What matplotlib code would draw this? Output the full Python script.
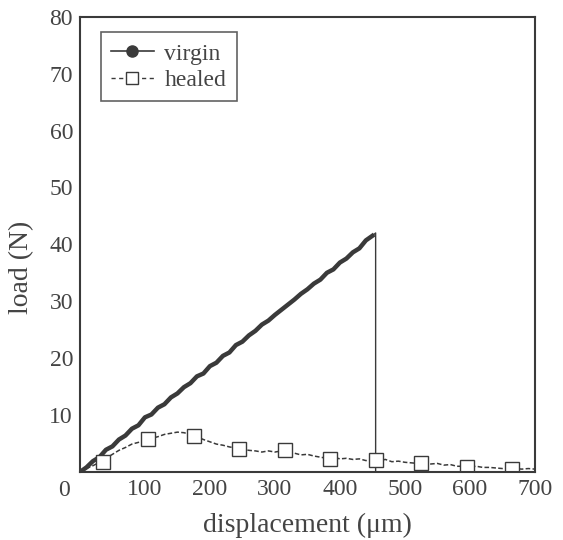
import matplotlib.pyplot as plt

# virgin specimen: load-displacement up to fracture
virgin_x = [0, 10, 20, 30, 40, 50, 60, 70, 80, 90, 100, 110, 120, 130, 140, 150,
            160, 170, 180, 190, 200, 210, 220, 230, 240, 250, 260, 270, 280, 290,
            300, 310, 320, 330, 340, 350, 360, 370, 380, 390, 400, 410, 420, 430,
            440, 450, 455, 455]
virgin_y = [0.0, 0.8, 1.9, 2.6, 3.9, 4.5, 5.7, 6.4, 7.6, 8.2, 9.6, 10.1, 11.3, 11.9,
            13.1, 13.8, 14.9, 15.6, 16.8, 17.3, 18.6, 19.2, 20.4, 21.0, 22.3, 22.9,
            24.0, 24.8, 25.9, 26.6, 27.6, 28.5, 29.4, 30.3, 31.3, 32.1, 33.1, 33.8,
            35.0, 35.6, 36.8, 37.5, 38.6, 39.3, 40.7, 41.5, 42.0, 0.0]

# healed specimen
healed_x = [0, 10, 20, 30, 40, 50, 60, 70, 80, 90, 100, 110, 120, 130, 140, 150,
            160, 170, 180, 190, 200, 210, 220, 230, 240, 250, 260, 270, 280, 290,
            300, 310, 320, 330, 340, 350, 360, 370, 380, 390, 400, 410, 420, 430,
            440, 450, 460, 470, 480, 490, 500, 510, 520, 530, 540, 550, 560, 570,
            580, 590, 600, 610, 620, 630, 640, 650, 660, 670, 680, 690, 700]
healed_y = [0.0, 0.6, 1.1, 1.7, 2.4, 3.1, 3.8, 4.3, 4.9, 5.2, 5.6, 5.9, 6.2, 6.6,
            6.8, 7.0, 6.9, 6.6, 6.2, 5.7, 5.3, 4.9, 4.7, 4.4, 4.2, 4.0, 3.8, 3.7,
            3.5, 3.7, 3.5, 3.7, 3.4, 3.3, 3.0, 3.1, 2.8, 2.6, 2.4, 2.6, 2.3, 2.4,
            2.2, 2.3, 2.0, 2.1, 2.0, 2.2, 1.8, 1.9, 1.7, 1.6, 1.5, 1.6, 1.4, 1.5,
            1.2, 1.3, 1.0, 1.0, 0.9, 1.0, 0.8, 0.8, 0.7, 0.6, 0.6, 0.6, 0.5, 0.6, 0.5]
healed_marks = [35, 105, 175, 245, 315, 385, 455, 525, 595, 665]
healed_marks_y = [1.8, 5.8, 6.3, 4.1, 3.8, 2.3, 2.1, 1.5, 0.8, 0.5]

x_ticks = [100, 200, 300, 400, 500, 600, 700]
y_ticks = [10, 20, 30, 40, 50, 60, 70, 80]

plt.rcParams['font.family'] = ['Liberation Serif', 'DejaVu Serif']
col = '#3a3a3a'
txt = '#444444'

fig = plt.figure(figsize=(5.63, 5.40), dpi=100)
ax = fig.add_axes([0.142, 0.126, 0.808, 0.843])

ax.plot(virgin_x[:-2], virgin_y[:-2], color=col, lw=3.2)
ax.plot(virgin_x[-3:], virgin_y[-3:], color=col, lw=1.0)

ax.plot(healed_x, healed_y, color=col, lw=1.1, linestyle=(0, (3, 1.5)))
ax.plot(healed_marks, healed_marks_y, linestyle='', marker='s', ms=10,
        mfc='white', mec=col, mew=1.0)

# legend proxies
ax.plot([], [], color=col, lw=1.2, marker='o', ms=8, label='virgin')
ax.plot([], [], color=col, lw=1.0, linestyle=(0, (3, 2.5)), marker='s', ms=9,
        mfc='white', mec=col, label='healed')
leg = ax.legend(loc='upper left', bbox_to_anchor=(0.035, 0.976), fontsize=17,
                frameon=True, fancybox=False, edgecolor=col, handlelength=1.8,
                borderpad=0.45, labelspacing=0.2, handletextpad=0.45,
                borderaxespad=0.2)
leg.get_frame().set_linewidth(1.2)
for t in leg.get_texts():
    t.set_color(txt)

ax.set_xlim(0, 700)
ax.set_ylim(0, 80)
ax.set_xticks(x_ticks)
ax.set_yticks(y_ticks)
ax.tick_params(length=0, labelsize=17, colors=txt, pad=5)
ax.text(-0.035, -0.04, '0', transform=ax.transAxes, fontsize=17,
        color=txt, ha='center', va='center')
for s in ax.spines.values():
    s.set_linewidth(1.5)
    s.set_color(col)

ax.set_xlabel('displacement (\u03bcm)', fontsize=20, color=txt, labelpad=9)
ax.set_ylabel('load (N)', fontsize=20, color=txt)
ax.yaxis.set_label_coords(-0.1, 0.45)

fig.savefig('out.png', dpi=100)
